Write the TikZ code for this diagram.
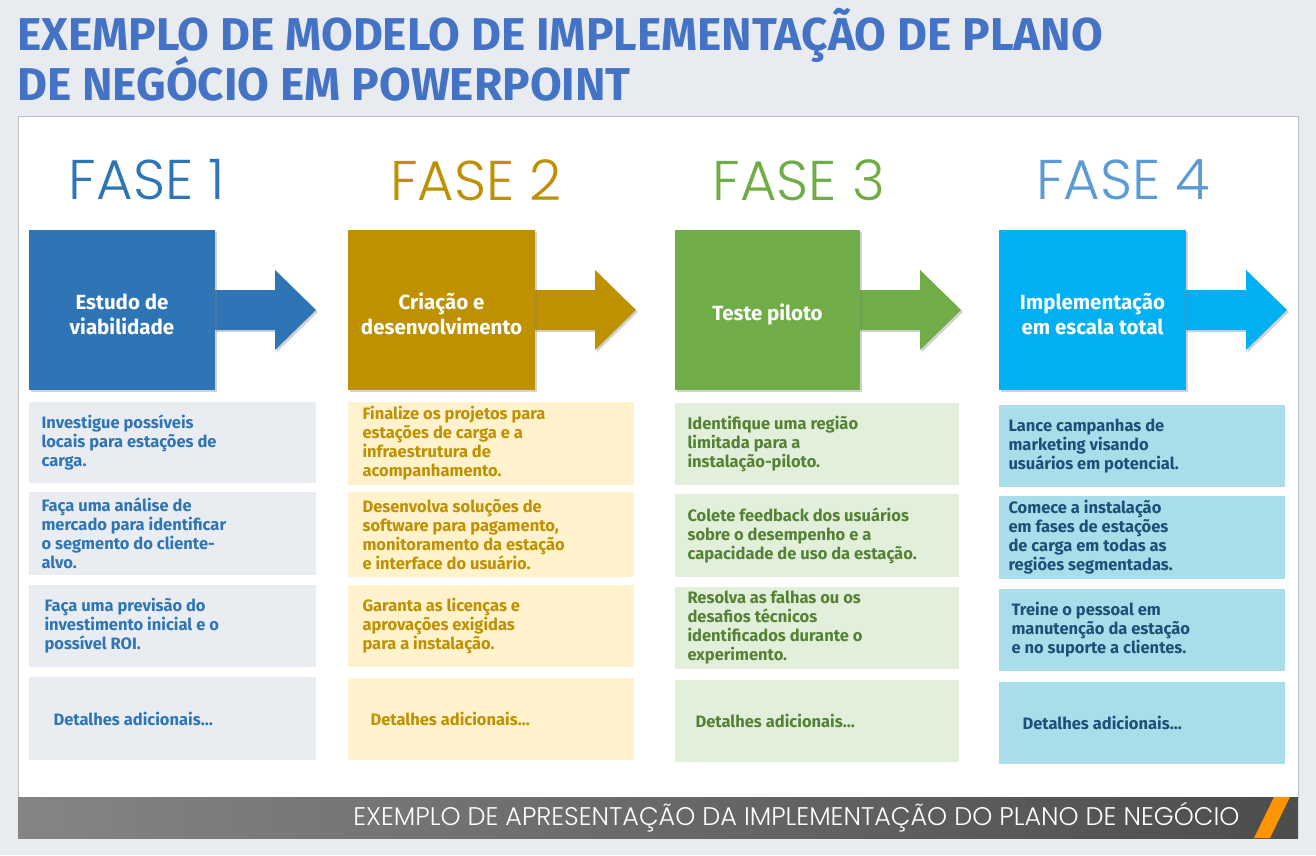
\documentclass[tikz,border=0pt]{standalone}
\usepackage{fontspec}
\setmainfont{Fira Sans}
\newfontfamily\thin{Poppins Light}
\usetikzlibrary{shadows}
\definecolor{bgc}{HTML}{E8ECF1}
\definecolor{ttl}{HTML}{4472C4}
\definecolor{cA}{HTML}{2E75B6}\definecolor{cB}{HTML}{BF9000}\definecolor{cC}{HTML}{70AD47}\definecolor{cD}{HTML}{00B0F0}
\definecolor{hD}{HTML}{5B9BD5}
\definecolor{fA}{HTML}{E9EDF2}\definecolor{fB}{HTML}{FFF2CC}\definecolor{fC}{HTML}{E2EFDA}\definecolor{fD}{HTML}{A9DDE9}
\definecolor{tA}{HTML}{2E75B6}\definecolor{tB}{HTML}{BF9000}\definecolor{tC}{HTML}{548235}\definecolor{tD}{HTML}{1F4E79}
\begin{document}
\begin{tikzpicture}[x=1pt,y=-1pt,
  fase/.style={font=\thin\fontsize{56}{60}\selectfont,anchor=center},
  sq/.style={drop shadow={opacity=.35,shadow xshift=2pt,shadow yshift=-2pt}},
  btext/.style={anchor=west,align=left,font=\bfseries\fontsize{16.5}{19}\selectfont},
  htext/.style={align=center,text=white,font=\bfseries\fontsize{20.5}{25}\selectfont}]
\useasboundingbox (0,0) rectangle (1316,855);
\fill[bgc] (0,0) rectangle (1316,855);
\fill[white,draw=black!25] (18,116) rectangle (1298,797);
\node[anchor=base west,text=ttl,font=\bfseries\fontsize{46}{46}\selectfont,inner sep=0] (t1) at (17,50) {EXEMPLO DE MODELO DE IMPLEMENTAÇÃO DE PLANO};
\node[anchor=base west,text=ttl,font=\bfseries\fontsize{46}{46}\selectfont,inner sep=0] (t2) at (17,100) {DE NEGÓCIO EM POWERPOINT};
% band
\shade[left color=black!48,right color=black!70] (18,797) rectangle (1298,838);
\fill[orange!85!yellow] (1274,797) -- (1290,797) -- (1270,838) -- (1254,838) -- cycle;
\node[anchor=east,text=white,font=\thin\fontsize{25.5}{28}\selectfont] (band) at (1243,817) {EXEMPLO DE APRESENTAÇÃO DA IMPLEMENTAÇÃO DO PLANO DE NEGÓCIO};
% phases
\foreach \i/\x/\w/\hx/\c/\hc/\hd in {1/29/186/147/cA/cA/{Estudo de\\viabilidade},2/348/187/476/cB/cB/{Criação e\\desenvolvimento},3/675/185/799/cC/cC/{Teste piloto},4/999/187/1123/cD/hD/{Implementação\\em escala total}}{
  \node[fase,text=\hc] (f\i) at (\hx,180) {FASE \i};
  \fill[\c,sq] (\x+\w-1,290) -- (\x+\w+60,290) -- (\x+\w+60,270) -- (\x+\w+101,310) -- (\x+\w+60,350) -- (\x+\w+60,330) -- (\x+\w-1,330) -- cycle;
  \fill[\c,sq] (\x,230) rectangle (\x+\w,390);
  \node[htext] (h\i) at (\x+\w/2,314) {\hd};
}
% boxes
\foreach \r/\ya/\yb/\t in {1/402/483/{Investigue possíveis\\locais para estações de\\carga.},2/492/575/{Faça uma análise de\\mercado para identificar\\o segmento do cliente-\\alvo.},3/585/667/{\hspace{3pt}Faça uma previsão do\\\hspace{3pt}investimento inicial e o\\\hspace{3pt}possível ROI.},4/677/760/{\hspace{12pt}Detalhes adicionais…}}{
  \fill[fA] (29,\ya) rectangle (316,\yb);
  \node[btext,text=tA] (a\r) at (38,{(\ya+\yb)/2}) {\t};}
\foreach \r/\ya/\yb/\t in {1/402/485/{Finalize os projetos para\\estações de carga e a\\infraestrutura de\\acompanhamento.},2/492/577/{Desenvolva soluções de\\software para pagamento,\\monitoramento da estação\\e interface do usuário.},3/585/667/{Garanta as licenças e\\aprovações exigidas\\para a instalação.},4/678/760/{\hspace{8pt}Detalhes adicionais…}}{
  \fill[fB] (348,\ya) rectangle (634,\yb);
  \node[btext,text=tB] (b\r) at (359,{(\ya+\yb)/2}) {\t};}
\foreach \r/\ya/\yb/\t in {1/403/485/{Identifique uma região\\limitada para a\\instalação-piloto.},2/494/577/{Colete feedback dos usuários\\sobre o desempenho e a\\capacidade de uso da estação.},3/587/669/{Resolva as falhas ou os\\desafios técnicos\\identificados durante o\\experimento.},4/680/762/{\hspace{8pt}Detalhes adicionais…}}{
  \fill[fC] (675,\ya) rectangle (959,\yb);
  \node[btext,text=tC] (c\r) at (684,{(\ya+\yb)/2}) {\t};}
\foreach \r/\ya/\yb/\t in {1/405/487/{Lance campanhas de\\marketing visando\\usuários em potencial.},2/496/579/{Comece a instalação\\em fases de estações\\de carga em todas as\\regiões segmentadas.},3/589/671/{\hspace{3pt}Treine o pessoal em\\\hspace{3pt}manutenção da estação\\\hspace{3pt}e no suporte a clientes.},4/682/764/{\hspace{14pt}Detalhes adicionais…}}{
  \fill[fD] (999,\ya) rectangle (1285,\yb);
  \node[btext,text=tD] (d\r) at (1005,{(\ya+\yb)/2}) {\t};}
\end{tikzpicture}
\end{document}
